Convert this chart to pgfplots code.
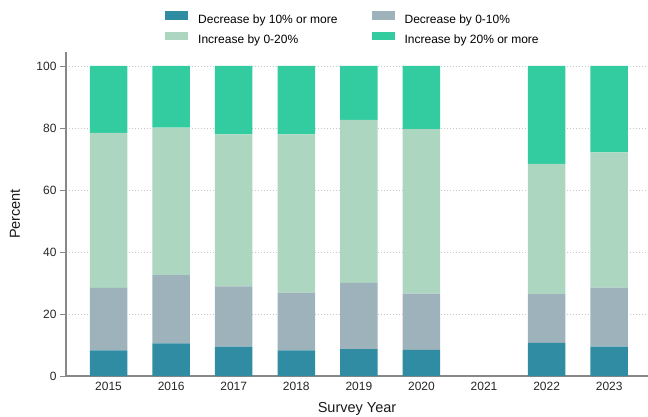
\documentclass[border=0pt]{standalone}
\usepackage{fontspec}
\setmainfont{Liberation Sans}
\usepackage{pgfplots}
\pgfplotsset{compat=1.18}

\definecolor{decbig}{RGB}{47,140,163}
\definecolor{decsmall}{RGB}{157,178,186}
\definecolor{incsmall}{RGB}{172,214,192}
\definecolor{incbig}{RGB}{51,204,160}
\definecolor{axisgray}{RGB}{136,136,136}
\definecolor{gridgray}{RGB}{200,200,200}

\begin{document}
\begin{tikzpicture}
\begin{axis}[
  name=ax,
  scale only axis, width=582bp, height=324bp,
  ybar stacked, bar width=37.5bp,
  xmin=-0.68, xmax=8.62, ymin=0, ymax=104.5,
  xtick={0,...,8},
  xticklabels={2015,2016,2017,2018,2019,2020,2021,2022,2023},
  ytick={0,20,...,100},
  axis x line*=bottom, axis y line*=left,
  axis line style={axisgray, line width=1.3bp},
  tick align=outside, major tick length=6bp,
  xtick style={draw=none},
  ytick style={axisgray, line width=0.8bp},
  ymajorgrids,
  grid style={gridgray, line width=0.8bp, dash pattern=on 0.8bp off 2.2bp},
  tick label style={font=\fontsize{12bp}{14bp}\selectfont, text=black!85},
  x tick label style={yshift=3.3bp},
  /pgf/number format/assume math mode=true,
  xlabel={Survey Year}, ylabel={Percent},
  label style={font=\fontsize{14.5bp}{17bp}\selectfont, text=black!90},
  xlabel style={at={(axis description cs:0.5,0)}, anchor=base, yshift=-36.7bp},
  ylabel style={at={(axis description cs:-0.0876,0.5)}, anchor=center},
  legend columns=2,
  legend cell align=left,
  legend image code/.code={\fill[#1] (0bp,0bp) rectangle (23bp,8.5bp);},
  legend style={
    draw=none, fill=none,
    at={(axis description cs:0.1650,1.1327)}, anchor=north west,
    font=\fontsize{12bp}{14bp}\selectfont,
    nodes={inner sep=0pt},
    row sep=7bp,
    /tikz/every odd column/.append style={column sep=10bp},
    /tikz/every even column/.append style={column sep=34bp},
  },
]
\addplot[fill=decbig, draw=none] coordinates
  {(0,8.3) (1,10.5) (2,9.5) (3,8.3) (4,8.7) (5,8.4) (7,10.7) (8,9.5)};
\addlegendentry{Decrease by 10\% or more}
\addplot[fill=decsmall, draw=none] coordinates
  {(0,20.1) (1,22.0) (2,19.4) (3,18.6) (4,21.3) (5,18.2) (7,15.7) (8,19.0)};
\addlegendentry{Decrease by 0-10\%}
\addplot[fill=incsmall, draw=none] coordinates
  {(0,50.0) (1,47.6) (2,49.0) (3,51.0) (4,52.6) (5,53.0) (7,42.0) (8,43.6)};
\addlegendentry{Increase by 0-20\%}
\addplot[fill=incbig, draw=none] coordinates
  {(0,21.6) (1,19.9) (2,22.1) (3,22.1) (4,17.4) (5,20.4) (7,31.6) (8,27.9)};
\addlegendentry{Increase by 20\% or more}
\end{axis}
\pgfresetboundingbox
\path[use as bounding box] ([xshift=-66bp,yshift=-40bp]ax.south west)
  rectangle ([yshift=52bp]ax.north east);
\end{tikzpicture}
\end{document}
